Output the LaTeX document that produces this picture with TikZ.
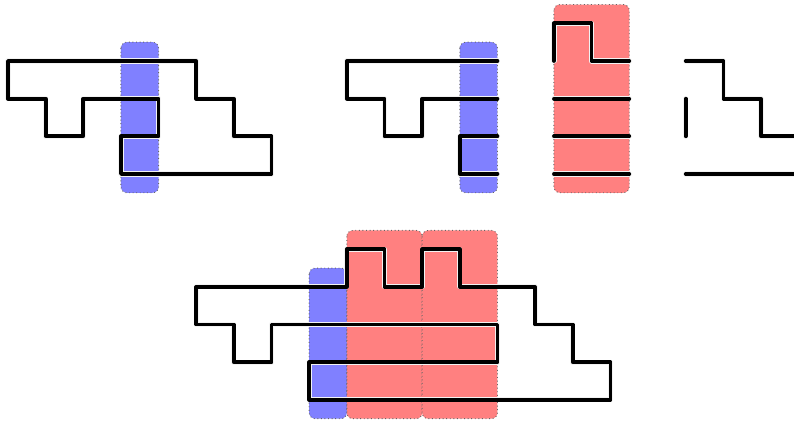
\documentclass[tikz,border=0pt]{standalone}
\usetikzlibrary{calc}
\definecolor{stripblue}{RGB}{128,128,255}
\definecolor{stripred}{RGB}{255,128,128}
\tikzset{
  bluestrip/.style={fill=stripblue, draw=gray!80!black, dotted, line width=0.7pt, rounded corners=0.16cm},
  redstrip/.style={fill=stripred, draw=gray!80!black, dotted, line width=0.7pt, rounded corners=0.16cm},
  outline/.style={draw=black, line width=2.8pt, line cap=round, line join=round,
    preaction={draw=white!90!gray, line width=3.9pt, line cap=round, line join=round}},
}
\begin{document}
\begin{tikzpicture}[x=1cm,y=-1cm]
\useasboundingbox (-0.2125,-1.620) rectangle (20.876,9.588);
% ---- strips ----
\draw[bluestrip] (3,-0.5) rectangle (4,3.5);
\draw[bluestrip] (12,-0.5) rectangle (13,3.5);
\draw[redstrip] (14.5,-1.5) rectangle (16.5,3.5);
\draw[bluestrip] (8,5.5) rectangle (9,9.5);
\draw[redstrip] (9,4.5) rectangle (11,9.5);
\draw[redstrip] (11,4.5) rectangle (13,9.5);
% ---- figure 1 ----
\draw[outline] (0,0) -- (5,0) -- (5,1) -- (6,1) -- (6,2) -- (7,2) -- (7,3) -- (3,3) -- (3,2) -- (4,2) -- (4,1) -- (2,1) -- (2,2) -- (1,2) -- (1,1) -- (0,1) -- cycle;
% ---- figure 2 ----
\draw[outline] (13,0) -- (9,0) -- (9,1) -- (10,1) -- (10,2) -- (11,2) -- (11,1) -- (13,1);
\draw[outline] (13,2) -- (12,2) -- (12,3) -- (13,3);
\draw[outline] (14.5,0) -- (14.5,-1) -- (15.5,-1) -- (15.5,0) -- (16.5,0);
\foreach \y in {1,2,3} \draw[outline] (14.5,\y) -- (16.5,\y);
% ---- figure 3 ----
\draw[outline] (18,0) -- (19,0) -- (19,1) -- (20,1) -- (20,2) -- (21,2);
\draw[outline] (18,1) -- (18,2);
\draw[outline] (18,3) -- (21,3);
% ---- bottom figure ----
\draw[outline] (5,6) -- (9,6) -- (9,5) -- (10,5) -- (10,6) -- (11,6) -- (11,5) -- (12,5) -- (12,6) -- (14,6) -- (14,7) -- (15,7) -- (15,8) -- (16,8) -- (16,9) -- (8,9) -- (8,8) -- (13,8) -- (13,7) -- (7,7) -- (7,8) -- (6,8) -- (6,7) -- (5,7) -- cycle;
\end{tikzpicture}
\end{document}
